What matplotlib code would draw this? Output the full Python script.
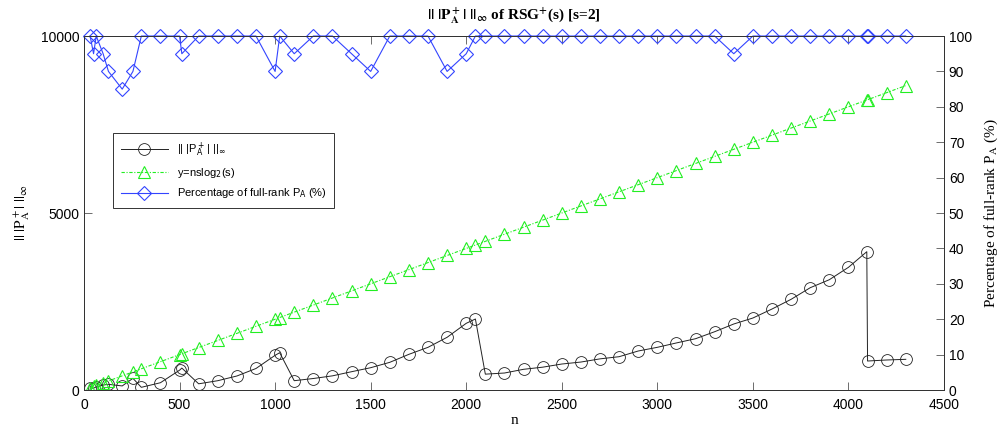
import matplotlib
matplotlib.use('Agg')
import matplotlib.pyplot as plt
from matplotlib.font_manager import FontProperties

# Problem sizes n
n_vals = [32, 50, 64, 100, 128, 200, 256, 300, 400, 500, 512, 600, 700, 800,
          900, 1000, 1024, 1100, 1200, 1300, 1400, 1500, 1600, 1700, 1800,
          1900, 2000, 2048, 2100, 2200, 2300, 2400, 2500, 2600, 2700, 2800,
          2900, 3000, 3100, 3200, 3300, 3400, 3500, 3600, 3700, 3800, 3900,
          4000, 4096, 4100, 4200, 4300]

# || |P_A^+| ||_inf
pinv_norm = [60, 50, 90, 140, 160, 115, 330, 76, 206, 560, 620, 175, 263, 396,
             608, 980, 1054, 263, 325, 400, 517, 630, 782, 1008, 1206,
             1489, 1884, 2006, 448, 480, 585, 645, 734, 790, 880, 941,
             1102, 1206, 1330, 1449, 1647, 1865, 2034, 2288, 2562, 2890, 3116,
             3466, 3907, 819, 848, 867]

# y = n s log2(s), s = 2
bound_vals = [64, 100, 128, 200, 256, 400, 512, 600, 800, 1000, 1024, 1200, 1400, 1600,
              1800, 2000, 2048, 2200, 2400, 2600, 2800, 3000, 3200, 3400, 3600,
              3800, 4000, 4096, 4200, 4400, 4600, 4800, 5000, 5200, 5400, 5600,
              5800, 6000, 6200, 6400, 6600, 6800, 7000, 7200, 7400, 7600, 7800,
              8000, 8192, 8200, 8400, 8600]

# Percentage of full-rank P_A
full_rank_pct = [100, 95, 100, 95, 90, 85, 90, 100, 100, 100, 95, 100, 100, 100,
                 100, 90, 100, 95, 100, 100, 95, 90, 100, 100, 100,
                 90, 95, 100, 100, 100, 100, 100, 100, 100, 100, 100,
                 100, 100, 100, 100, 100, 95, 100, 100, 100, 100, 100,
                 100, 100, 100, 100, 100]

x_ticks = [0, 500, 1000, 1500, 2000, 2500, 3000, 3500, 4000, 4500]
left_ticks = [0, 5000, 10000]
right_ticks = [0, 10, 20, 30, 40, 50, 60, 70, 80, 90, 100]

plt.rcParams['font.family'] = ['Liberation Sans', 'DejaVu Sans']
plt.rcParams['mathtext.fontset'] = 'stix'

fig = plt.figure(figsize=(10, 4.32), dpi=100)
ax = fig.add_axes([0.084, 0.0972, 0.86, 0.8194])
ax2 = ax.twinx()

l1, = ax.plot(n_vals, pinv_norm, color='#222222', linewidth=0.7, marker='o',
              markersize=8.5, markerfacecolor='none', markeredgecolor='#222222',
              markeredgewidth=0.6, label=r'|| |P$^+_{\rm A}$| ||$_\infty$')
l2, = ax.plot(n_vals, bound_vals, color='#22ee22', linewidth=0.8, linestyle=(0, (3, 1.5, 1, 1.5)),
              marker='^', markersize=8.5, markerfacecolor='none', markeredgecolor='#22ee22',
              markeredgewidth=0.8, label=r'y=nslog$_2$(s)')
l3, = ax2.plot(n_vals, full_rank_pct, color='#3344ff', linewidth=0.8, marker='D',
               markersize=7.5, markerfacecolor='none', markeredgecolor='#3344ff',
               markeredgewidth=0.8, label=r'Percentage of full-rank P$_{\rm A}$ (%)',
               clip_on=False)

ax.set_xlim(0, 4500)
ax.set_ylim(0, 10000)
ax2.set_ylim(0, 100)
ax.set_xticks(x_ticks)
ax.set_yticks(left_ticks)
ax2.set_yticks(right_ticks)

ax.tick_params(axis='both', direction='in', length=6, width=0.6, labelsize=10,
               top=True, color='#555555')
ax.tick_params(axis='x', pad=6)
ax.tick_params(axis='y', right=False)
ax2.tick_params(axis='y', direction='in', length=6, width=0.6, labelsize=10,
                color='#555555')
for a in (ax, ax2):
    for s in a.spines.values():
        s.set_linewidth(0.7)
        s.set_color('#333333')

serif = ['Liberation Serif', 'DejaVu Serif']
ax.set_xlabel('n', family=serif, fontsize=11, labelpad=1)
ax.set_ylabel(r'$||\ |\mathrm{P}^+_\mathrm{A}|\ ||_\infty$', family=serif, fontsize=11, labelpad=6)
ax2.set_ylabel(r'Percentage of full-rank P$_\mathrm{A}$ (%)', family=serif, fontsize=11, labelpad=8)
ax.set_title(r'$\mathbf{||\ |P^+_A|\ ||_\infty}$ of RSG$^{\mathbf{+}}$(s) [s=2]',
             family=serif, fontsize=11, fontweight='bold', pad=12)

leg_font = FontProperties(family='Liberation Sans', size=8, math_fontfamily='dejavusans')
leg = ax2.legend([l1, l2, l3], [l1.get_label(), l2.get_label(), l3.get_label()],
                 loc='upper left', bbox_to_anchor=(0.034, 0.726), borderaxespad=0,
                 prop=leg_font, fancybox=False, framealpha=1, edgecolor='#333333',
                 handlelength=4.2, borderpad=0.7, labelspacing=0.6)
leg.get_frame().set_linewidth(0.7)

plt.savefig('out.png', dpi=100)
plt.close()
